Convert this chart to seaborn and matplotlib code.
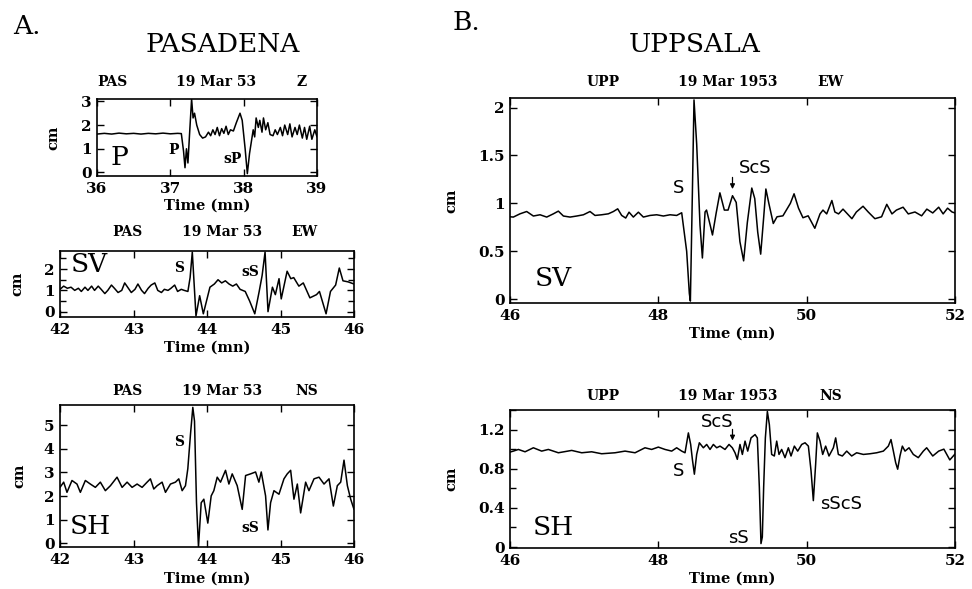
import numpy as np
import pandas as pd
import matplotlib
matplotlib.use("Agg")
import matplotlib.pyplot as plt
from matplotlib.ticker import MultipleLocator
import seaborn as sns

# ---------------- data ----------------
# Pasadena Z (P)
p_t = [36.00, 36.10, 36.20, 36.30, 36.40, 36.50, 36.60, 36.70, 36.80, 36.90, 37.00, 37.10, 37.15,
       37.18, 37.20, 37.22, 37.24, 37.26, 37.29, 37.31, 37.33, 37.36, 37.40, 37.44, 37.48, 37.52,
       37.55, 37.58, 37.61, 37.64, 37.67, 37.70, 37.73, 37.76, 37.79, 37.82, 37.86, 37.90, 37.95,
       37.98, 38.02, 38.05, 38.08, 38.10, 38.13, 38.15, 38.17, 38.20, 38.22, 38.25, 38.27, 38.30,
       38.33, 38.36, 38.40, 38.43, 38.46, 38.50, 38.53, 38.56, 38.60, 38.63, 38.66, 38.70, 38.73,
       38.76, 38.80, 38.83, 38.86, 38.90, 38.93, 38.97, 39.00]
p_y = [1.62, 1.65, 1.62, 1.66, 1.63, 1.65, 1.62, 1.65, 1.63, 1.66, 1.63, 1.65, 1.64,
       0.90, 0.20, 1.00, 0.40, 1.50, 3.10, 2.30, 2.50, 2.00, 1.60, 1.45, 1.50, 1.70,
       1.55, 1.80, 1.60, 1.90, 1.55, 1.85, 1.65, 1.95, 1.60, 1.80, 1.75, 2.10, 2.50,
       2.20, 1.00, -0.05, 0.80, 1.20, 1.80, 1.50, 2.30, 1.90, 2.20, 1.70, 2.30, 1.80,
       2.10, 1.60, 1.55, 1.80, 1.60, 1.90, 1.55, 2.00, 1.60, 2.05, 1.50, 1.90, 1.60,
       2.00, 1.45, 1.90, 1.40, 1.95, 1.40, 1.80, 1.50]

# Pasadena EW (SV)
sva_t = [42.00, 42.05, 42.10, 42.15, 42.20, 42.25, 42.29, 42.34, 42.38, 42.43, 42.47, 42.52, 42.56,
         42.61, 42.65, 42.70, 42.74, 42.79, 42.84, 42.88, 42.93, 42.97, 43.02, 43.06, 43.11, 43.15,
         43.20, 43.24, 43.29, 43.33, 43.38, 43.42, 43.47, 43.51, 43.56, 43.60, 43.65, 43.69, 43.74,
         43.77, 43.80, 43.85, 43.90, 43.95, 44.04, 44.10, 44.15, 44.20, 44.25, 44.30, 44.35, 44.40,
         44.45, 44.52, 44.58, 44.65, 44.71, 44.75, 44.79, 44.83, 44.89, 44.93, 44.98, 45.01, 45.09,
         45.14, 45.18, 45.25, 45.31, 45.40, 45.49, 45.53, 45.62, 45.68, 45.75, 45.80, 45.85, 45.92,
         46.00]
sva_y = [1.05, 1.20, 1.10, 1.15, 1.00, 1.10, 0.95, 1.15, 1.00, 1.20, 1.00, 1.20, 1.05,
         0.85, 1.00, 1.25, 1.10, 0.90, 1.00, 1.35, 1.10, 0.90, 1.05, 1.30, 1.00, 0.85,
         1.10, 1.25, 1.35, 1.00, 0.90, 1.05, 1.00, 1.10, 1.25, 0.95, 1.05, 1.00, 0.95,
         1.60, 2.80, -0.20, 0.75, -0.10, 1.15, 1.30, 1.50, 1.35, 1.45, 1.30, 1.20, 1.30,
         1.05, 0.95, 0.50, -0.10, 0.95, 1.70, 2.80, 0.00, 1.15, 0.80, 1.55, 0.60, 1.90,
         1.55, 1.60, 1.20, 1.35, 0.65, 0.80, 0.95, -0.10, 0.95, 1.25, 2.05, 1.45, 1.40,
         1.30]

# Pasadena NS (SH)
sha_t = [42.00, 42.05, 42.095, 42.163, 42.231, 42.277, 42.345, 42.413, 42.481, 42.549, 42.617,
         42.686, 42.776, 42.845, 42.913, 42.981, 43.049, 43.117, 43.185, 43.230, 43.276, 43.321,
         43.389, 43.435, 43.503, 43.571, 43.616, 43.662, 43.707, 43.739, 43.775, 43.807, 43.830,
         43.857, 43.884, 43.921, 43.957, 44.011, 44.057, 44.093, 44.139, 44.184, 44.252, 44.298,
         44.343, 44.411, 44.479, 44.525, 44.593, 44.661, 44.706, 44.738, 44.797, 44.829, 44.865,
         44.911, 44.979, 45.047, 45.092, 45.138, 45.183, 45.229, 45.274, 45.342, 45.387, 45.456,
         45.524, 45.592, 45.660, 45.719, 45.773, 45.819, 45.864, 45.910, 45.955, 46.00]
sha_y = [2.37, 2.59, 2.16, 2.66, 2.51, 2.16, 2.66, 2.51, 2.37, 2.59, 2.23,
         2.44, 2.80, 2.37, 2.59, 2.37, 2.51, 2.37, 2.59, 2.73, 2.30, 2.44,
         2.59, 2.16, 2.51, 2.59, 2.73, 2.23, 2.44, 3.16, 4.60, 5.75, 5.17,
         1.72, -0.14, 1.72, 1.87, 0.86, 2.01, 2.23, 2.80, 2.59, 3.09, 2.51,
         2.94, 2.44, 1.44, 2.87, 2.94, 3.02, 2.59, 3.02, 2.01, 0.57, 1.72,
         2.23, 2.08, 2.73, 2.94, 3.09, 1.87, 2.51, 1.29, 2.59, 2.23, 2.73,
         2.80, 2.51, 2.73, 1.58, 2.44, 2.59, 3.52, 2.44, 1.87, 1.44]

# Uppsala EW (SV)
svb_t = [46.00, 46.045, 46.135, 46.225, 46.315, 46.405, 46.495, 46.585, 46.652, 46.72, 46.81,
         46.90, 46.99, 47.079, 47.146, 47.236, 47.326, 47.394, 47.452, 47.506, 47.56, 47.605,
         47.663, 47.731, 47.798, 47.888, 47.978, 48.068, 48.158, 48.247, 48.315,
         48.382, 48.418, 48.432, 48.459, 48.481, 48.517, 48.562, 48.594,
         48.63, 48.65, 48.70, 48.73, 48.78, 48.83, 48.89, 48.94, 49.00, 49.05, 49.10, 49.15,
         49.20, 49.26, 49.30, 49.34, 49.38, 49.42, 49.45, 49.49, 49.55, 49.60, 49.68, 49.78,
         49.83, 49.89, 49.95, 50.02, 50.11, 50.18, 50.22, 50.27, 50.34, 50.38, 50.43, 50.49,
         50.61, 50.67, 50.76, 50.83, 50.92, 51.01, 51.08, 51.15, 51.21, 51.30, 51.37, 51.46,
         51.55, 51.62, 51.70, 51.78, 51.84, 51.90, 51.96, 52.00]
svb_y = [0.86, 0.857, 0.891, 0.915, 0.868, 0.881, 0.857, 0.891, 0.919, 0.868, 0.857,
         0.868, 0.881, 0.915, 0.874, 0.881, 0.891, 0.915, 0.943, 0.874, 0.847, 0.908,
         0.857, 0.908, 0.857, 0.874, 0.881, 0.868, 0.881, 0.874, 0.902,
         0.50, 0.06, -0.02, 1.11, 2.08, 1.62, 0.77, 0.43,
         0.91, 0.93, 0.77, 0.67, 0.90, 1.11, 0.93, 0.93, 1.08, 1.01, 0.60, 0.40,
         0.80, 1.16, 1.05, 0.70, 0.47, 0.85, 1.15, 1.00, 0.79, 0.86, 0.87, 1.00,
         1.10, 0.95, 0.85, 0.87, 0.74, 0.89, 0.93, 0.89, 1.03, 0.91, 0.89, 0.94,
         0.84, 0.91, 0.97, 0.91, 0.84, 0.86, 0.99, 0.89, 0.93, 0.96, 0.89, 0.91,
         0.87, 0.94, 0.90, 0.96, 0.89, 0.95, 0.91, 0.90]

# Uppsala NS (SH)
shb_t = [46.00, 46.045, 46.113, 46.203, 46.315, 46.427, 46.517, 46.652, 46.832, 46.967, 47.101,
         47.236, 47.416, 47.551, 47.686, 47.820, 47.910, 48.00, 48.09, 48.18, 48.247, 48.315,
         48.36, 48.405, 48.436, 48.459, 48.486, 48.517, 48.553, 48.607, 48.652, 48.697, 48.742,
         48.787, 48.832, 48.899, 48.953, 48.998, 49.034, 49.065, 49.101, 49.133, 49.169, 49.205,
         49.250, 49.304, 49.335, 49.362, 49.384, 49.402, 49.420, 49.443, 49.470, 49.497, 49.528,
         49.564, 49.596, 49.627, 49.663, 49.708, 49.753, 49.789, 49.834, 49.879, 49.933, 49.978,
         50.023, 50.059, 50.090, 50.121, 50.144, 50.180, 50.216, 50.256, 50.301, 50.360, 50.391,
         50.427, 50.481, 50.540, 50.607, 50.674, 50.764, 50.854, 50.944, 51.034, 51.101, 51.137,
         51.169, 51.200, 51.227, 51.258, 51.290, 51.326, 51.380, 51.438, 51.505, 51.573, 51.618,
         51.70, 51.78, 51.85, 51.93, 52.00]
shb_y = [0.97, 0.98, 0.997, 0.973, 1.014, 0.98, 0.997, 0.963, 0.987, 0.963, 0.973,
         0.953, 0.963, 0.98, 0.963, 1.014, 0.997, 1.021, 0.997, 0.98, 1.014, 0.98,
         0.963, 1.166, 1.048, 0.896, 0.744, 0.946, 1.065, 1.014, 1.048, 0.997, 1.048,
         1.014, 1.031, 0.997, 1.048, 1.014, 0.963, 0.896, 1.048, 0.946, 1.082, 0.98,
         1.115, 1.149, 1.115, 0.609, 0.035, 0.102, 0.609, 1.115, 1.385, 1.250, 0.946,
         0.930, 1.082, 0.946, 0.997, 0.913, 1.014, 0.930, 1.031, 0.98, 1.048, 1.065,
         1.031, 0.778, 0.474, 0.845, 1.166, 1.082, 0.946, 1.031, 0.930, 1.014, 1.115,
         0.946, 0.930, 0.98, 0.930, 0.963, 0.946, 0.953, 0.963, 0.98, 1.031, 1.098,
         0.98, 0.862, 0.795, 0.930, 1.031, 0.98, 1.014, 0.946, 0.913, 0.98, 1.014,
         0.93, 0.98, 1.00, 0.89, 0.95]

# tick labels
p_xticks = [36, 37, 38, 39]
pas_xticks = [42, 43, 44, 45, 46]
upp_xticks = [46, 48, 50, 52]
p_yticks = [0, 1, 2, 3]
sva_yticks = [0, 1, 2]
sha_yticks = [0, 1, 2, 3, 4, 5]
svb_yticks = [0, 0.5, 1, 1.5, 2]
svb_ylabels = ["0", "0.5", "1", "1.5", "2"]
shb_yticks = [0, 0.4, 0.8, 1.2]
shb_ylabels = ["0", "0.4", "0.8", "1.2"]

# ---------------- figure ----------------
sns.set_style("ticks")
plt.rcParams["font.family"] = ["DejaVu Serif"]
plt.rcParams["axes.linewidth"] = 1.2
for k in ["text.color", "axes.labelcolor", "xtick.color", "ytick.color", "axes.edgecolor"]:
    plt.rcParams[k] = "black"

W, H = 972, 589
fig = plt.figure(figsize=(W / 100, H / 100), dpi=100)
fig.patch.set_facecolor("white")


def add_ax(l, r, t, b):
    return fig.add_axes([l / W, 1 - b / H, (r - l) / W, (b - t) / H])


BOLD = dict(fontweight="bold", fontsize=10)


def style(ax, xlim, ylim, xticks, yticks, ylabels=None, yminor=None,
          header=None, hy=1.1, xl_y=-0.2, yl_x=-0.15):
    ax.set_xlim(*xlim)
    ax.set_ylim(*ylim)
    ax.set_xticks(xticks, labels=[str(v) for v in xticks], fontweight="bold", fontsize=11)
    if ylabels is None:
        ylabels = [str(v) for v in yticks]
    ax.set_yticks(yticks, labels=ylabels, fontweight="bold", fontsize=11)
    if yminor:
        ax.yaxis.set_minor_locator(MultipleLocator(yminor))
    ax.tick_params(which="both", direction="in", top=True, right=True, width=1.0, pad=4,
                   color="black", labelcolor="black")
    ax.tick_params(which="major", length=5)
    ax.tick_params(which="minor", length=4)
    ax.set_xlabel("Time (mn)", fontweight="bold", fontsize=10.5, color="black")
    ax.set_ylabel("cm", fontweight="bold", fontsize=10.5, color="black")
    ax.xaxis.set_label_coords(0.5, xl_y)
    ax.yaxis.set_label_coords(yl_x, 0.5)
    for s in ax.spines.values():
        s.set_visible(True)
        s.set_color("black")
    if header:
        for (xf, txt) in header:
            ax.text(xf, hy, txt, transform=ax.transAxes, ha="center", va="center", **BOLD)


def trace(ax, t, y):
    df = pd.DataFrame({"t": t, "y": y})
    sns.lineplot(data=df, x="t", y="y", ax=ax, color="black", linewidth=1.1,
                 sort=False, estimator=None)


# A1: Pasadena Z
ax1 = add_ax(97, 317, 99, 176)
trace(ax1, p_t, p_y)
style(ax1, (36, 39), (-0.15, 3.1), p_xticks, p_yticks,
      header=[(0.07, "PAS"), (0.54, "19 Mar 53"), (0.93, "Z")], hy=1.22,
      xl_y=-0.30, yl_x=-0.165)
ax1.text(36.3, 0.62, "P", fontsize=19, ha="center", va="center")
ax1.text(37.05, 0.94, "P", ha="center", va="center", **BOLD)
ax1.text(37.85, 0.55, "sP", ha="center", va="center", **BOLD)

# A2: Pasadena EW
ax2 = add_ax(60, 354, 251, 317)
trace(ax2, sva_t, sva_y)
style(ax2, (42, 46), (-0.25, 2.85), pas_xticks, sva_yticks, yminor=0.5,
      header=[(0.23, "PAS"), (0.55, "19 Mar 53"), (0.83, "EW")], hy=1.29,
      xl_y=-0.36, yl_x=-0.122)
ax2.text(42.4, 2.22, "SV", fontsize=19, ha="center", va="center")
ax2.text(43.62, 2.05, "S", ha="center", va="center", **BOLD)
ax2.text(44.59, 1.86, "sS", ha="center", va="center", **BOLD)

# A3: Pasadena NS
ax3 = add_ax(60, 354, 405, 547)
trace(ax3, sha_t, sha_y)
style(ax3, (42, 46), (-0.15, 5.85), pas_xticks, sha_yticks,
      header=[(0.23, "PAS"), (0.55, "19 Mar 53"), (0.84, "NS")], hy=1.10,
      xl_y=-0.176, yl_x=-0.116)
ax3.text(42.42, 0.72, "SH", fontsize=19, ha="center", va="center")
ax3.text(43.62, 4.28, "S", ha="center", va="center", **BOLD)
ax3.text(44.59, 0.65, "sS", ha="center", va="center", **BOLD)

SANS = dict(family="DejaVu Sans", fontsize=13, ha="center", va="center")

# B1: Uppsala EW
ax4 = add_ax(510, 955, 98, 303)
trace(ax4, svb_t, svb_y)
style(ax4, (46, 52), (-0.04, 2.1), upp_xticks, svb_yticks, ylabels=svb_ylabels,
      header=[(0.21, "UPP"), (0.49, "19 Mar 1953"), (0.72, "EW")], hy=1.08,
      xl_y=-0.117, yl_x=-0.115)
ax4.text(46.58, 0.22, "SV", fontsize=19, ha="center", va="center")
ax4.text(48.27, 1.16, "S", **SANS)
ax4.text(49.31, 1.37, "ScS", **SANS)
ax4.annotate("", xy=(49.0, 1.12), xytext=(49.0, 1.30),
             arrowprops=dict(arrowstyle="-|>", color="black", lw=0.9, mutation_scale=7))

# B2: Uppsala NS
ax5 = add_ax(510, 955, 410, 548)
trace(ax5, shb_t, shb_y)
style(ax5, (46, 52), (-0.01, 1.40), upp_xticks, shb_yticks, ylabels=shb_ylabels, yminor=0.2,
      header=[(0.21, "UPP"), (0.49, "19 Mar 1953"), (0.72, "NS")], hy=1.10,
      xl_y=-0.174, yl_x=-0.115)
ax5.text(46.59, 0.2, "SH", fontsize=19, ha="center", va="center")
ax5.text(48.27, 0.78, "S", **SANS)
ax5.text(48.80, 1.28, "ScS", **SANS)
ax5.text(49.08, 0.09, "sS", **SANS)
ax5.text(50.47, 0.44, "sScS", **SANS)
ax5.annotate("", xy=(49.0, 1.06), xytext=(49.0, 1.23),
             arrowprops=dict(arrowstyle="-|>", color="black", lw=0.9, mutation_scale=7))

# titles
fig.text(27 / W, 1 - 26 / H, "A.", fontsize=19, ha="center", va="center")
fig.text(223 / W, 1 - 44 / H, "PASADENA", fontsize=19, ha="center", va="center")
fig.text(466 / W, 1 - 22 / H, "B.", fontsize=19, ha="center", va="center")
fig.text(695 / W, 1 - 44 / H, "UPPSALA", fontsize=19, ha="center", va="center")

fig.savefig("out.png", dpi=100, facecolor="white")
